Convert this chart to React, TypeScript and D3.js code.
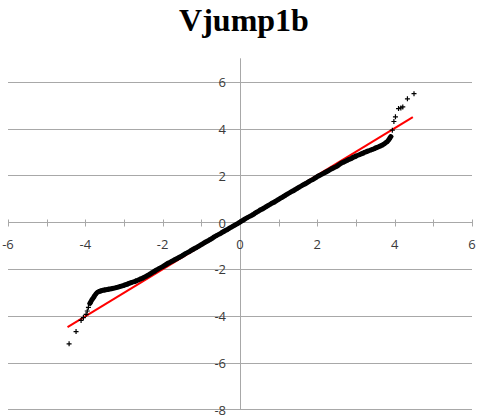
import React, { useEffect, useRef } from 'react';
import * as d3 from 'd3';

// theoretical (normal) quantiles and the matching sample quantiles
const theoretical = [
  -4.42, -4.24, -4.11, -4.05, -3.98, -3.95, -3.92, -3.88, -3.84, -3.79, -3.74, -3.7,
  -3.65, -3.6, -3.5, -3.4, -3.3, -3.2, -3.1, -3.0, -2.9, -2.8, -2.7, -2.6, -2.5, -2.4,
  -2.3, -2.2, -2.1, -2.0, -1.9, -1.8, -1.7, -1.6, -1.5, -1.4, -1.3, -1.2, -1.1, -1.0,
  -0.9, -0.8, -0.7, -0.6, -0.5, -0.4, -0.3, -0.2, -0.1, 0.0, 0.1, 0.2, 0.3, 0.4, 0.5,
  0.6, 0.7, 0.8, 0.9, 1.0, 1.1, 1.2, 1.3, 1.4, 1.5, 1.6, 1.7, 1.8, 1.9, 2.0, 2.1, 2.2,
  2.3, 2.4, 2.5, 2.6, 2.7, 2.8, 2.9, 3.0, 3.1, 3.2, 3.3, 3.4, 3.5, 3.6, 3.7, 3.76, 3.82,
  3.86, 3.9, 3.94, 3.98, 4.02, 4.1, 4.16, 4.21, 4.33, 4.5,
];
const sample = [
  -5.2, -4.68, -4.2, -4.08, -3.94, -3.8, -3.64, -3.47, -3.35, -3.23, -3.1, -3.02,
  -2.97, -2.94, -2.9, -2.87, -2.84, -2.8, -2.75, -2.7, -2.64, -2.58, -2.52, -2.45,
  -2.38, -2.29, -2.19, -2.09, -1.99, -1.9, -1.8, -1.71, -1.62, -1.53, -1.44, -1.34,
  -1.25, -1.15, -1.06, -0.96, -0.86, -0.77, -0.67, -0.57, -0.48, -0.38, -0.29, -0.19,
  -0.1, 0.0, 0.1, 0.2, 0.29, 0.39, 0.49, 0.58, 0.68, 0.78, 0.87, 0.97, 1.07, 1.17, 1.27,
  1.36, 1.46, 1.56, 1.65, 1.75, 1.84, 1.94, 2.03, 2.12, 2.21, 2.3, 2.38, 2.5, 2.58, 2.66,
  2.74, 2.82, 2.89, 2.96, 3.03, 3.09, 3.16, 3.23, 3.31, 3.38, 3.46, 3.55, 3.65, 3.93,
  4.3, 4.5, 4.85, 4.88, 4.92, 5.27, 5.49,
];

// fitted reference line
const trendX = [-4.46, 4.47];
const trendY = [-4.49, 4.49];

const xTicks = [-6, -4, -2, 0, 2, 4, 6];
const xMinorTicks = [-6, -5, -4, -3, -2, -1, 0, 1, 2, 3, 4, 5, 6];
const yTicks = [-8, -6, -4, -2, 0, 2, 4, 6];

const App = () => {
  const ref = useRef<SVGSVGElement>(null);

  useEffect(() => {
    const svg = d3.select(ref.current);
    svg.selectAll('*').remove();

    const x = d3.scaleLinear().domain([-6, 6]).range([8, 472]);
    const y = d3.scaleLinear().domain([-8, 7]).range([409.3, 58.3]);
    const grid = '#a8a8a8';

    svg
      .append('text')
      .attr('x', 244)
      .attr('y', 31)
      .attr('text-anchor', 'middle')
      .style('font-family', '"Liberation Serif", "Times New Roman", serif')
      .style('font-weight', 'bold')
      .style('font-size', '32px')
      .text('Vjump1b');

    // horizontal gridlines
    svg
      .append('g')
      .selectAll('line')
      .data(yTicks.filter((d) => d !== 0))
      .enter()
      .append('line')
      .attr('x1', x(-6))
      .attr('x2', x(6))
      .attr('y1', (d) => Math.round(y(d)) + 0.5)
      .attr('y2', (d) => Math.round(y(d)) + 0.5)
      .style('stroke', grid);

    // x axis through 0
    const y0 = Math.round(y(0)) + 0.5;
    const xAxis = svg.append('g').attr('transform', `translate(0, ${y0})`);
    xAxis.append('line').attr('x1', x(-6)).attr('x2', x(6)).style('stroke', grid);
    xAxis
      .selectAll('.tick')
      .data(xMinorTicks)
      .enter()
      .append('line')
      .attr('x1', (d) => Math.round(x(d)) + 0.5)
      .attr('x2', (d) => Math.round(x(d)) + 0.5)
      .attr('y1', -3)
      .attr('y2', 4)
      .style('stroke', grid);

    // y axis through 0
    const x0 = Math.round(x(0)) + 0.5;
    svg
      .append('line')
      .attr('x1', x0)
      .attr('x2', x0)
      .attr('y1', y(7))
      .attr('y2', y(-8))
      .style('stroke', grid);

    const labelFont = '"Open Sans", "Noto Sans", sans-serif';
    const fmt = (d: number) => (d < 0 ? '-' + Math.abs(d) : String(d));
    svg
      .append('g')
      .selectAll('text')
      .data(xTicks)
      .enter()
      .append('text')
      .attr('x', (d) => x(d))
      .attr('y', y0 + 26)
      .attr('text-anchor', 'middle')
      .style('font-family', labelFont)
      .style('font-size', '13px')
      .style('fill', '#3a3a3a')
      .text(fmt);

    svg
      .append('g')
      .selectAll('text')
      .data(yTicks)
      .enter()
      .append('text')
      .attr('x', 226)
      .attr('y', (d) => y(d) + 5.5)
      .attr('text-anchor', 'end')
      .style('font-family', labelFont)
      .style('font-size', '13px')
      .style('fill', '#3a3a3a')
      .text(fmt);

    // red reference line
    const line = d3
      .line<number>()
      .x((d, i) => x(trendX[i]))
      .y((d) => y(d));
    svg
      .append('path')
      .datum(trendY)
      .attr('d', line)
      .style('fill', 'none')
      .style('stroke', '#ff0000')
      .style('stroke-width', 2);

    // dense body of the points
    const pts = theoretical.map((t, i) => [t, sample[i]] as [number, number]);
    const body = pts.filter((p) => Math.abs(p[0]) < 3.91);
    const bodyLine = d3
      .line<[number, number]>()
      .x((d) => x(d[0]))
      .y((d) => y(d[1]))
      .curve(d3.curveMonotoneX);
    svg
      .append('path')
      .datum(body)
      .attr('d', bodyLine)
      .style('fill', 'none')
      .style('stroke', '#000')
      .style('stroke-width', 5)
      .style('stroke-linecap', 'round');

    // plus markers
    svg
      .append('g')
      .selectAll('path')
      .data(pts)
      .enter()
      .append('path')
      .attr('transform', (d) => `translate(${x(d[0])}, ${y(d[1])})`)
      .attr('d', 'M-2.5,0H2.5M0,-2.5V2.5')
      .style('fill', 'none')
      .style('stroke', '#000')
      .style('stroke-width', 1.2);
  }, []);

  return (
    <svg
      ref={ref}
      width={478}
      height={419}
      style={{ position: 'absolute', left: 0, top: 0, background: '#fff' }}
    />
  );
};

export default App;
